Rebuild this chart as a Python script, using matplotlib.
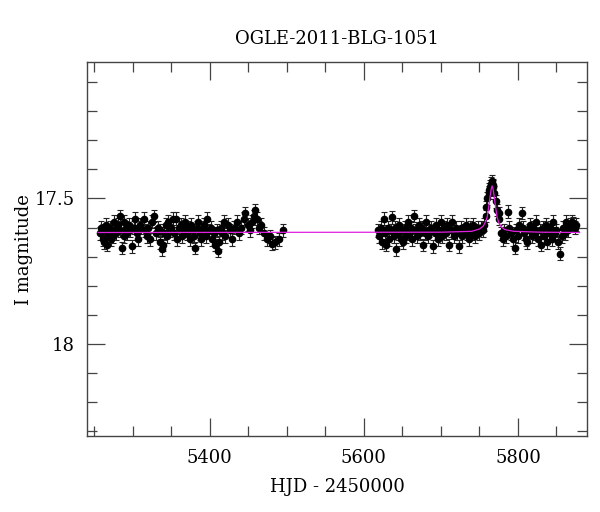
import numpy as np
import matplotlib
matplotlib.use("Agg")
import matplotlib.pyplot as plt
from matplotlib.ticker import MultipleLocator

plt.rcParams['font.family'] = ['DejaVu Serif']

title = 'OGLE-2011-BLG-1051'
xlabel = 'HJD - 2450000'
ylabel = 'I magnitude'

# first season (HJD - 2450000, I mag)
hjd_s1 = [5258, 5259, 5261, 5262, 5263, 5265, 5266, 5267, 5269, 5270, 5272, 5273,
          5275, 5276, 5278, 5279, 5281, 5283, 5284, 5286, 5288, 5289, 5291, 5293,
          5295, 5297, 5299, 5301, 5303, 5305, 5307, 5309, 5311, 5314, 5316, 5318,
          5320, 5322, 5325, 5328, 5330, 5333, 5335, 5336, 5338, 5339, 5341, 5343,
          5344, 5346, 5348, 5350, 5352, 5354, 5356, 5358, 5360, 5362, 5364, 5366,
          5368, 5370, 5372, 5374, 5376, 5378, 5379, 5381, 5383, 5385, 5387, 5389,
          5391, 5393, 5395, 5397, 5399, 5401, 5403, 5405, 5407, 5409, 5411, 5412,
          5414, 5416, 5418, 5420, 5423, 5426, 5429, 5432, 5435, 5438, 5441, 5444,
          5446, 5449, 5452, 5455, 5457, 5459, 5461, 5464, 5467, 5470, 5474, 5478,
          5481, 5485, 5490, 5495]
mag_s1 = [17.62, 17.60, 17.64, 17.61, 17.65, 17.59, 17.63, 17.66, 17.62, 17.60, 17.64, 17.61,
          17.63, 17.58, 17.62, 17.60, 17.59, 17.56, 17.61, 17.67, 17.63, 17.58, 17.60, 17.62,
          17.59, 17.61, 17.665, 17.60, 17.57, 17.62, 17.64, 17.59, 17.60, 17.57, 17.61, 17.63,
          17.60, 17.64, 17.58, 17.56, 17.62, 17.60, 17.65, 17.61, 17.675, 17.66, 17.62, 17.59,
          17.63, 17.58, 17.61, 17.60, 17.57, 17.62, 17.57, 17.64, 17.60, 17.59, 17.63, 17.61,
          17.58, 17.62, 17.60, 17.64, 17.59, 17.61, 17.63, 17.67, 17.60, 17.58, 17.62, 17.64,
          17.60, 17.59, 17.63, 17.57, 17.61, 17.60, 17.64, 17.62, 17.66, 17.61, 17.68, 17.65,
          17.60, 17.62, 17.58, 17.63, 17.59, 17.61, 17.64, 17.60, 17.58, 17.62, 17.60, 17.57,
          17.55, 17.59, 17.61, 17.58, 17.56, 17.54, 17.57, 17.60, 17.59, 17.62, 17.64, 17.63,
          17.655, 17.65, 17.64, 17.61]

# second season
hjd_s2 = [5618, 5620, 5622, 5624, 5626, 5628, 5629, 5631, 5633, 5635, 5637, 5639,
          5640, 5642, 5644, 5646, 5648, 5650, 5651, 5653, 5655, 5657, 5659, 5661,
          5663, 5665, 5667, 5669, 5671, 5673, 5675, 5677, 5679, 5681, 5683, 5685,
          5687, 5690, 5692, 5694, 5696, 5698, 5700, 5702, 5704, 5706, 5708, 5711,
          5713, 5715, 5717, 5719, 5721, 5724, 5726, 5728, 5730, 5732, 5734, 5736,
          5738, 5740, 5742, 5744, 5746, 5748, 5750, 5752, 5754, 5756, 5758, 5759,
          5760, 5762, 5763, 5764, 5765, 5766, 5767, 5768, 5769, 5771, 5773, 5775,
          5776, 5778, 5780, 5782, 5784, 5787, 5789, 5791, 5793, 5796, 5798, 5800,
          5802, 5805, 5806, 5808, 5810, 5812, 5814, 5816, 5818, 5820, 5822, 5824,
          5826, 5828, 5830, 5832, 5834, 5836, 5838, 5840, 5842, 5844, 5846, 5848,
          5850, 5852, 5855, 5857, 5859, 5861, 5863, 5865, 5867, 5870, 5872, 5874, 5876]
mag_s2 = [17.61, 17.63, 17.60, 17.65, 17.57, 17.62, 17.66, 17.60, 17.64, 17.61, 17.565, 17.63,
          17.60, 17.675, 17.62, 17.59, 17.64, 17.61, 17.65, 17.60, 17.63, 17.58, 17.62, 17.60,
          17.64, 17.56, 17.61, 17.63, 17.59, 17.62, 17.60, 17.66, 17.62, 17.58, 17.63, 17.61,
          17.60, 17.665, 17.62, 17.59, 17.64, 17.61, 17.58, 17.63, 17.60, 17.62, 17.59, 17.66,
          17.61, 17.58, 17.63, 17.60, 17.62, 17.665, 17.60, 17.63, 17.61, 17.59, 17.62, 17.64,
          17.60, 17.62, 17.59, 17.63, 17.61, 17.60, 17.62, 17.60, 17.61, 17.59, 17.56, 17.53,
          17.50, 17.48, 17.47, 17.46, 17.45, 17.44, 17.455, 17.46, 17.48, 17.51, 17.54, 17.55,
          17.57, 17.62, 17.64, 17.61, 17.63, 17.545, 17.60, 17.62, 17.64, 17.67, 17.61, 17.63,
          17.59, 17.55, 17.60, 17.62, 17.64, 17.65, 17.61, 17.59, 17.63, 17.60, 17.62, 17.58,
          17.64, 17.61, 17.66, 17.60, 17.63, 17.59, 17.65, 17.62, 17.60, 17.64, 17.58, 17.62,
          17.61, 17.65, 17.69, 17.63, 17.60, 17.62, 17.58, 17.61, 17.59, 17.58, 17.585, 17.60, 17.59]

err_s1 = 0.022
err_s2 = 0.022

# model light curve (magenta)
model_hjd = [5255, 5700, 5740, 5750, 5755, 5758, 5760, 5762, 5764, 5765.5, 5766.5,
             5767.5, 5769, 5771, 5773, 5775, 5778, 5783, 5795, 5830, 5880]
model_mag = [17.617, 17.616, 17.613, 17.605, 17.595, 17.580, 17.565, 17.53, 17.49, 17.465, 17.457,
             17.465, 17.49, 17.53, 17.565, 17.582, 17.597, 17.607, 17.613, 17.616, 17.617]

fig = plt.figure(figsize=(6, 5.12), dpi=100)
ax = fig.add_axes([0.1455, 0.148, 0.8333, 0.731])

ax.plot(model_hjd, model_mag, color='#e020e0', lw=0.9, zorder=3)
for h, m, e in [(hjd_s1, mag_s1, err_s1), (hjd_s2, mag_s2, err_s2)]:
    ax.errorbar(h, m, yerr=e, fmt='o', color='black', ms=4.5, ecolor='#222222',
                elinewidth=0.8, capsize=2.5, capthick=0.8, zorder=2)

ax.set_xlim(5241, 5890)
ax.set_ylim(18.317, 17.031)
ax.xaxis.set_major_locator(MultipleLocator(200))
ax.xaxis.set_minor_locator(MultipleLocator(50))
ax.yaxis.set_major_locator(MultipleLocator(0.5))
ax.yaxis.set_minor_locator(MultipleLocator(0.1))
ax.yaxis.set_major_formatter(plt.FuncFormatter(lambda v, p: f'{v:g}'))
ax.tick_params(which='both', direction='in', top=True, right=True, color='#444444',
               labelsize=13)
ax.tick_params(which='major', length=13, width=0.9, pad=9)
ax.tick_params(which='minor', length=7, width=0.9)
for s in ax.spines.values():
    s.set_color('#444444')
    s.set_linewidth(1.0)

ax.set_xlabel(xlabel, fontsize=13, labelpad=8)
ax.set_ylabel(ylabel, fontsize=13)
ax.yaxis.set_label_coords(-0.109, 0.5)
ax.set_title(title, fontsize=13, pad=13)

fig.savefig('out.png', dpi=100)
